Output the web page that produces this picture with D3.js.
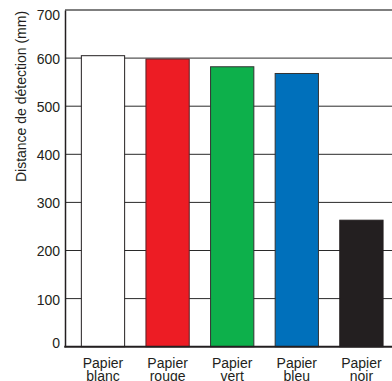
<!DOCTYPE html>
<html>
<head>
<meta charset="utf-8">
<script src="https://cdn.jsdelivr.net/npm/d3@7"></script>
<style>
  html, body { margin: 0; padding: 0; background: #fff; overflow: hidden; }
  svg { display: block; }
  text { font-family: "Liberation Sans", Arial, Helvetica, sans-serif; fill: #231f20; }
</style>
</head>
<body>
<svg id="chart" width="392" height="381"></svg>
<script>
const categories = ["Papier blanc", "Papier rouge", "Papier vert", "Papier bleu", "Papier noir"];
const values = [605, 598, 582, 568, 263];
const colors = ["#ffffff", "#ed1c24", "#0db04b", "#0070bb", "#231f20"];
const strokes = ["#231f20", "#5a2226", "#333333", "#333333", "#231f20"];
const yTicks = [0, 100, 200, 300, 400, 500, 600, 700];
const yLabel = "Distance de détection (mm)";

(function () {
const svg = d3.select("#chart");
const mLeft = 65, mTop = 10, mBottom = 346.7, mRight = 392;

const y = d3.scaleLinear().domain([0, 700]).range([mBottom, mTop]);
const x = d3.scaleBand().domain(categories)
  .range([65, 399.4]).paddingInner(0.33).paddingOuter(0.253);

// gridlines
svg.append("g").selectAll("line").data(yTicks.filter(d => d > 0)).join("line")
  .attr("x1", mLeft).attr("x2", mRight)
  .attr("y1", d => y(d)).attr("y2", d => y(d))
  .attr("stroke", d => d === 700 ? "#555" : "#2a2a2a")
  .attr("stroke-width", d => d === 700 ? 1.6 : 1);

// bars
svg.append("g").selectAll("rect").data(values).join("rect")
  .attr("x", (d, i) => x(categories[i]))
  .attr("width", x.bandwidth())
  .attr("y", d => y(d))
  .attr("height", d => y(0) - y(d))
  .attr("fill", (d, i) => colors[i])
  .attr("stroke", (d, i) => strokes[i])
  .attr("stroke-width", 1);

// y axis
const yAxis = d3.axisLeft(y).tickValues(yTicks).tickSize(0).tickPadding(5);
const gy = svg.append("g").attr("transform", `translate(${mLeft},0)`).call(yAxis);
gy.select(".domain").attr("stroke", "#231f20").attr("stroke-width", 1.5);
gy.selectAll("text").style("font-size", "14px").attr("fill", "#231f20")
  .style("font-family", '"Liberation Sans", Arial, sans-serif')
  .attr("dy", d => d === 700 ? "0.70em" : d === 0 ? "0.05em" : "0.39em");

// baseline
svg.append("line").attr("x1", mLeft - 0.75).attr("x2", mRight)
  .attr("y1", y(0)).attr("y2", y(0))
  .attr("stroke", "#231f20").attr("stroke-width", 2);

// x labels (two lines)
const xl = svg.append("g").selectAll("text").data(categories).join("text")
  .attr("text-anchor", "middle")
  .style("font-size", "14px");
xl.each(function(d) {
  const parts = d.split(" ");
  const t = d3.select(this);
  const cx = x(d) + x.bandwidth() / 2;
  parts.forEach((p, j) => {
    t.append("tspan").attr("x", cx).attr("y", 368 + j * 13).text(p);
  });
});

// y label
svg.append("text")
  .attr("transform", `translate(26,96.5) rotate(-90)`)
  .attr("text-anchor", "middle")
  .style("font-size", "14px")
  .text(yLabel);
})();
</script>
</body>
</html>
